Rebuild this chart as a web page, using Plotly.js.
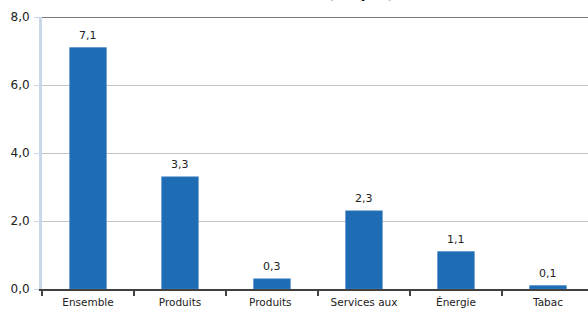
<!DOCTYPE html>
<html>
<head>
<meta charset="utf-8">
<script src="https://cdn.plot.ly/plotly-3.0.1.min.js"></script>
<style>html,body{margin:0;padding:0;background:#fff;}#chart{width:588px;height:313px;}</style>
</head>
<body>
<div id="chart"></div>
<script>
const categories = ["Ensemble", "Produits", "Produits ", "Services aux", "Énergie", "Tabac"];
const values = [7.1, 3.3, 0.3, 2.3, 1.1, 0.1];
const valueLabels = ["7,1", "3,3", "0,3", "2,3", "1,1", "0,1"];
const yTicks = [0, 2, 4, 6, 8];
const titleText = "Contributions (en pts)";

const trace = {
  type: "bar",
  x: categories,
  y: values,
  width: 0.4,
  marker: {color: "#1e6cb4", line: {color: "#4a8ac6", width: 0.6}},
  hoverinfo: "none"
};

const labelAnnotations = categories.map((c, i) => ({
  x: c, y: values[i], xref: "x", yref: "y",
  text: valueLabels[i], showarrow: false,
  yanchor: "bottom", yshift: 4,
  font: {family: "DejaVu Sans, Verdana, sans-serif", size: 11, color: "#222"}
}));

// chart title: sits above the visible window, only its lowest strokes show
labelAnnotations.push({
  xref: "paper", yref: "paper", x: 0.5, y: 1.048,
  xanchor: "center", yanchor: "bottom", xshift: -15,
  text: "<b>" + titleText + "</b>", showarrow: false,
  font: {family: "DejaVu Sans, Verdana, sans-serif", size: 15, color: "#111"}
});

const layout = {
  width: 588, height: 313,
  margin: {l: 42, r: 0, t: 17, b: 24, pad: 0},
  paper_bgcolor: "#fff", plot_bgcolor: "#fff",
  separators: ", ",
  showlegend: false,
  font: {family: "DejaVu Sans, Verdana, sans-serif", color: "#222"},
  xaxis: {
    type: "category",
    range: [-0.5, 5.435],
    showgrid: false,
    showline: true, linecolor: "#404040", linewidth: 1.5,
    ticks: "outside", tickson: "boundaries", ticklen: 5, tickcolor: "#404040", tickwidth: 1.5,
    ticklabelstandoff: 3,
    tickfont: {size: 10.5, color: "#222"},
    zeroline: false, fixedrange: true
  },
  yaxis: {
    range: [0, 8],
    tickvals: yTicks,
    tickformat: ".1f",
    showgrid: true, gridcolor: "#c4c4c4", gridwidth: 1,
    showline: true, linecolor: "#c9d7ea", linewidth: 3,
    ticks: "outside", ticklen: 5, tickcolor: "#c9d7ea", tickwidth: 1,
    ticklabelstandoff: 2,
    tickfont: {size: 12, color: "#222"},
    zeroline: false, fixedrange: true
  },
  annotations: labelAnnotations,
  shapes: [
    {type: "line", xref: "paper", yref: "y", x0: 0, x1: 1, y0: 8, y1: 8,
     line: {color: "#7a7a7a", width: 2}}
  ]
};

Plotly.newPlot("chart", [trace], layout, {staticPlot: true, displayModeBar: false});
</script>
</body>
</html>
